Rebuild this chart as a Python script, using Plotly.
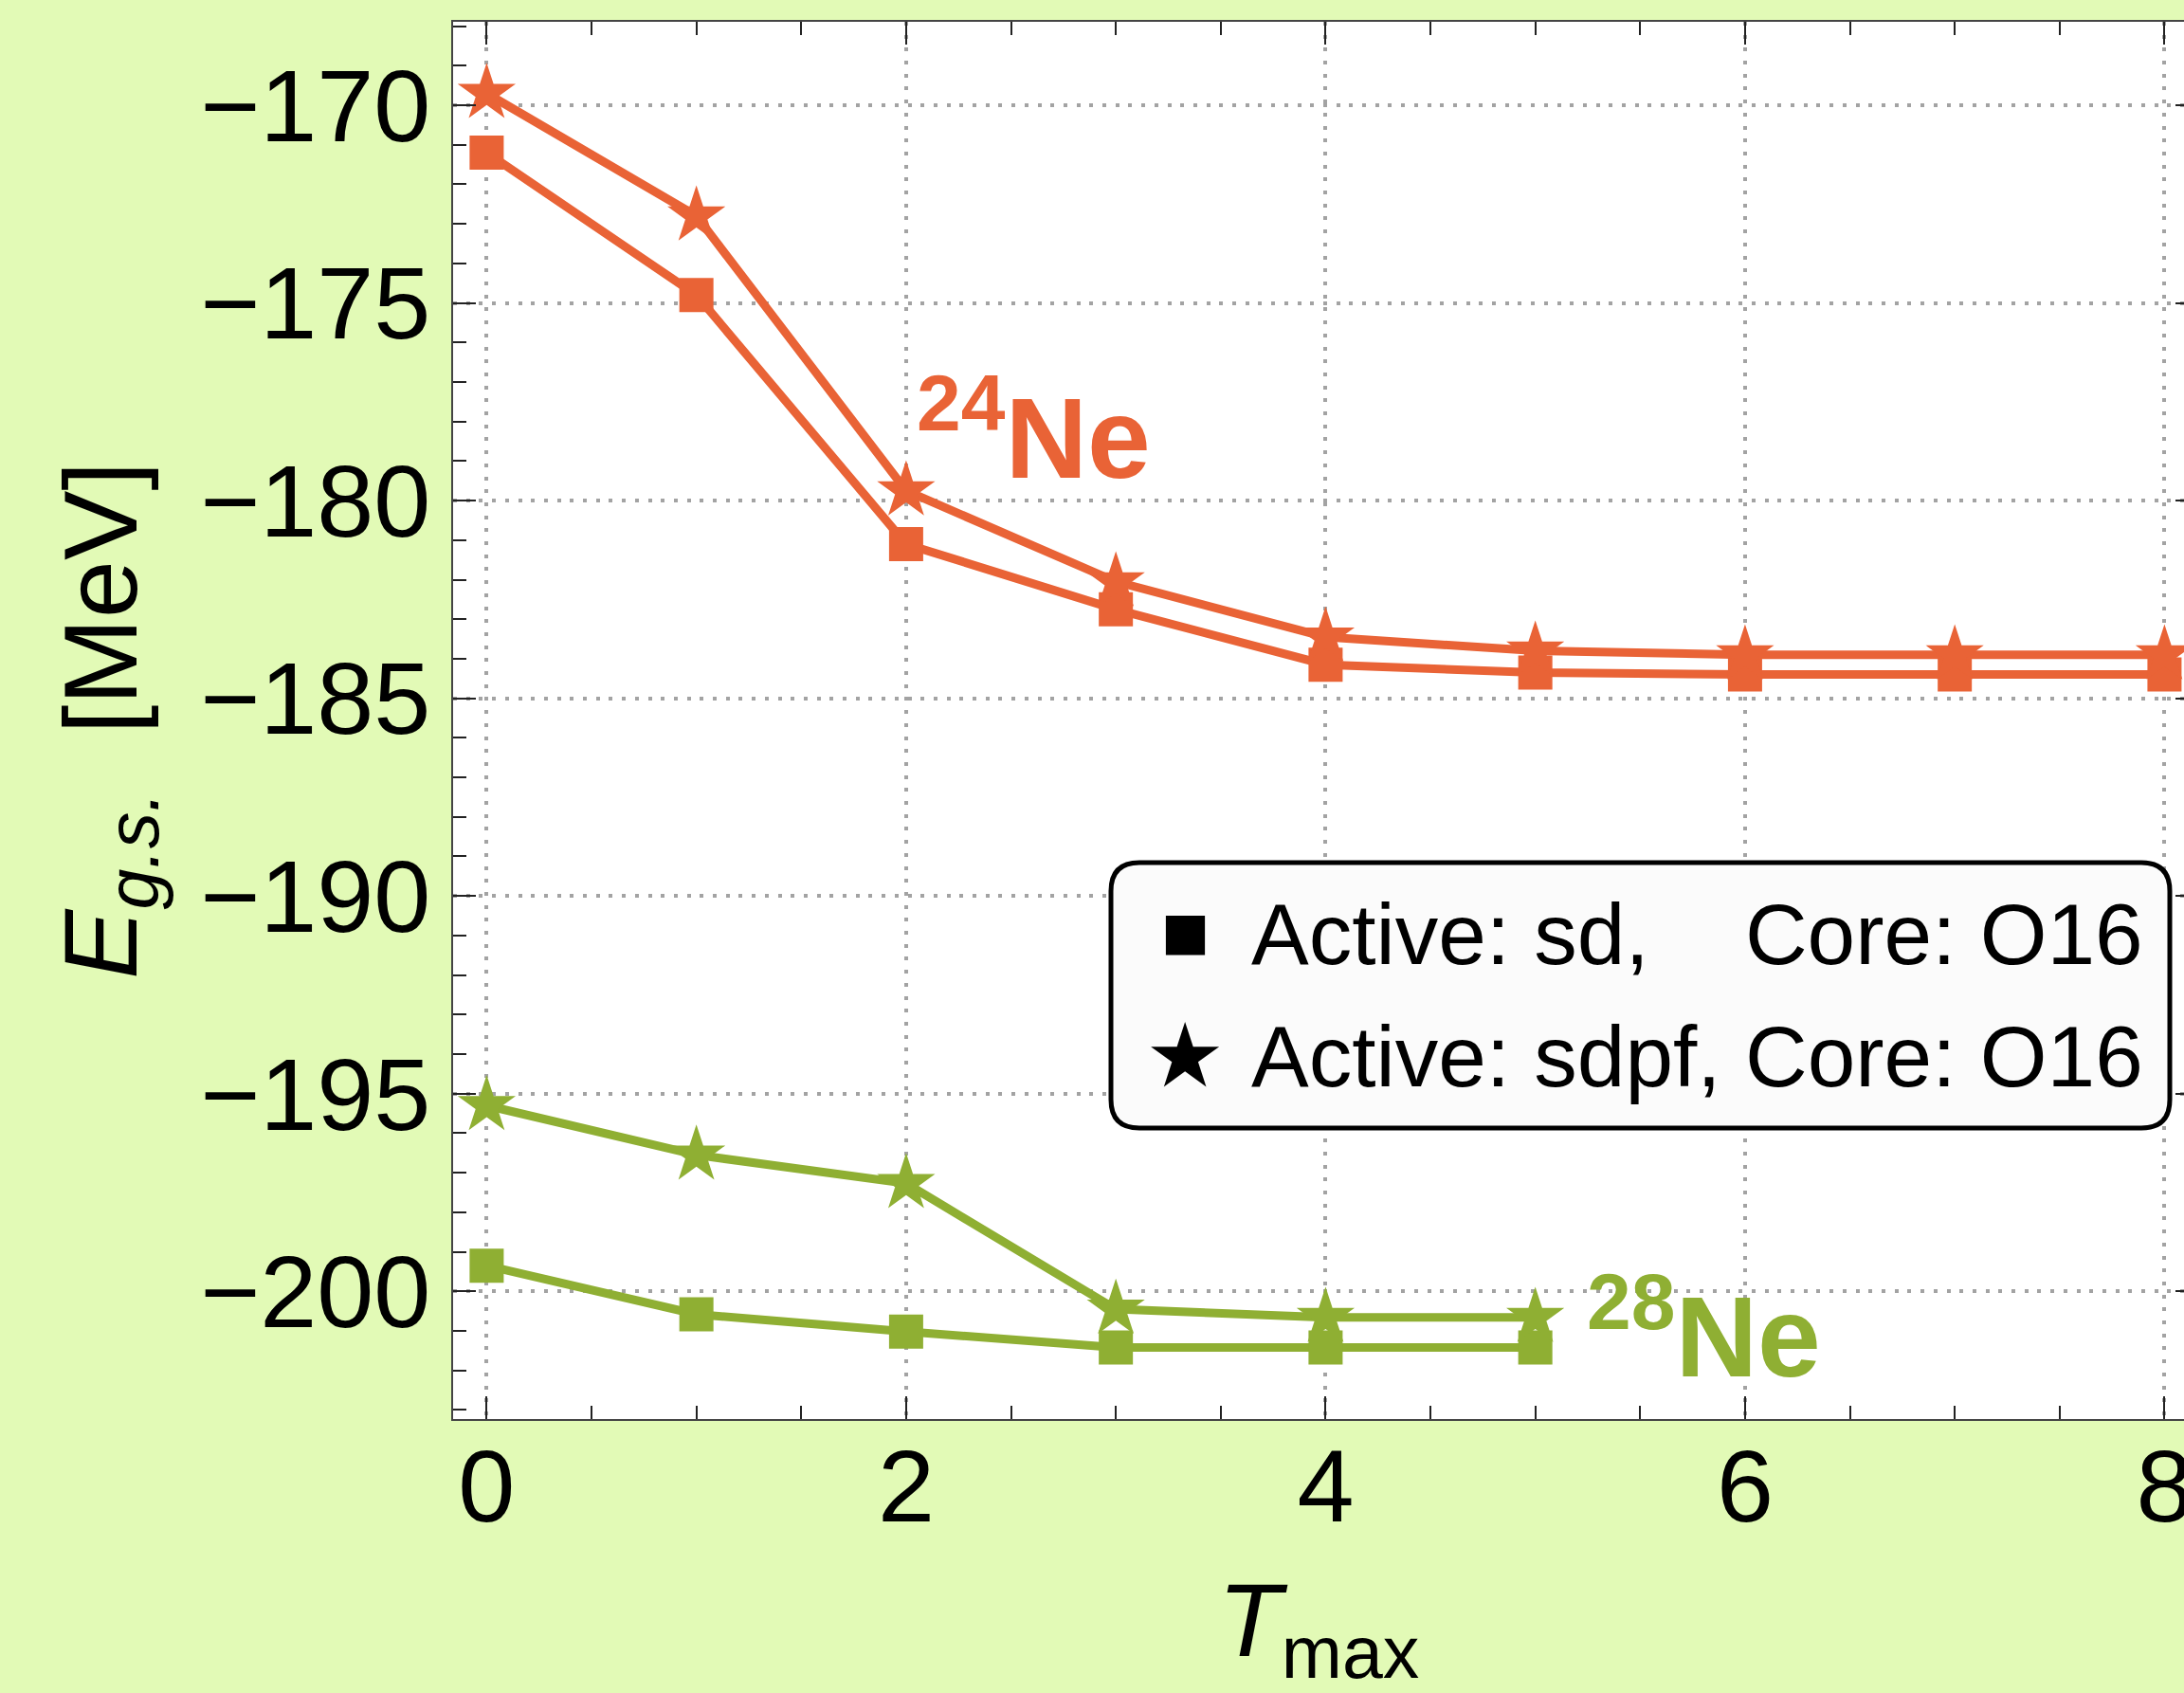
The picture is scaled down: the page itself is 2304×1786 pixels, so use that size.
import plotly.graph_objects as go

# Ground-state energies of 24Ne and 28Ne versus T_max
tmax_24 = [0, 1, 2, 3, 4, 5, 6, 7, 8]
e24_sd = [-171.2, -174.8, -181.1, -182.75, -184.15, -184.35, -184.4, -184.4, -184.4]
e24_sdpf = [-169.7, -172.8, -179.75, -182.05, -183.45, -183.8, -183.9, -183.9, -183.9]

tmax_28 = [0, 1, 2, 3, 4, 5]
e28_sd = [-199.35, -200.58, -201.02, -201.42, -201.42, -201.42]
e28_sdpf = [-195.3, -196.55, -197.27, -200.45, -200.66, -200.66]

legend_labels = ["Active: sd,\u00a0\u00a0\u00a0\u00a0Core: O16", "Active: sdpf, Core: O16"]
x_ticks = [0, 2, 4, 6, 8]
y_ticks = [-170, -175, -180, -185, -190, -195, -200]

ORANGE = "#E96336"
GREEN = "#8FAF33"
BG = "#E2FAB6"
FONT = "Liberation Sans, Arial, sans-serif"

W, H = 2304, 1786
L, R, T, B = 478, 0, 23, 289
X_RANGE = [-0.16, 8.093]
Y_RANGE = [-203.23, -167.89]


def px_x(px):
    return (px - L) / (W - L - R)


def px_y(py):
    return (H - B - py) / (H - B - T)


fig = go.Figure()

series = [
    (tmax_24, e24_sd, ORANGE, "square", 36),
    (tmax_24, e24_sdpf, ORANGE, "star", 46),
    (tmax_28, e28_sd, GREEN, "square", 36),
    (tmax_28, e28_sdpf, GREEN, "star", 46),
]
for xs, ys, col, sym, sz in series:
    fig.add_trace(go.Scatter(
        x=xs, y=ys, mode="lines+markers",
        line=dict(color=col, width=9),
        marker=dict(symbol=sym, size=sz, color=col, line=dict(width=0)),
        showlegend=False, hoverinfo="skip",
    ))

axis_common = dict(
    showline=True, linecolor="#444444", linewidth=2,
    ticks="inside", ticklen=24, tickwidth=2, tickcolor="#222222",
    showgrid=True, gridcolor="#A3A3A3", gridwidth=4, griddash="4px,9.7px",
    zeroline=False, ticklabeloverflow="allow", automargin=False,
    tickfont=dict(family=FONT, size=108, color="black"),
)

fig.update_xaxes(
    **axis_common,
    range=X_RANGE, tickvals=x_ticks, mirror="ticks", ticklabelstandoff=-24,
    minor=dict(ticks="inside", ticklen=14, tickwidth=2, tickcolor="#222222", dtick=0.5, showgrid=False),
    title=dict(text="<i>T</i><sub>max</sub>", font=dict(family=FONT, size=110, color="black"), standoff=82),
)
fig.update_yaxes(
    **axis_common,
    range=Y_RANGE, tickvals=y_ticks, mirror=False,
    minor=dict(ticks="inside", ticklen=14, tickwidth=2, tickcolor="#222222", dtick=1, showgrid=False),
    title=dict(text="<i>E</i><sub><i>g.s.</i></sub>\u00a0\u00a0[MeV]", font=dict(family=FONT, size=110, color="black"), standoff=30),
)

# right-hand frame ticks (frame edge lies just past the page)
fig.update_layout(yaxis2=dict(
    overlaying="y", side="right", range=Y_RANGE, tickvals=y_ticks,
    ticks="inside", ticklen=9, tickwidth=2, tickcolor="#222222", automargin=False,
    showticklabels=False, showgrid=False, showline=False, zeroline=False,
))
fig.add_trace(go.Scatter(x=[None], y=[None], yaxis="y2", showlegend=False, hoverinfo="skip"))

# nucleus labels
fig.add_annotation(x=2.04, y=-180.07, xref="x", yref="y", text="<b><sup>24</sup>Ne</b>",
                   showarrow=False, xanchor="left", yanchor="bottom",
                   font=dict(family=FONT, size=120, color=ORANGE))
fig.add_annotation(x=5.236, y=-202.8, xref="x", yref="y", text="<b><sup>28</sup>Ne</b>",
                   showarrow=False, xanchor="left", yanchor="bottom",
                   font=dict(family=FONT, size=120, color=GREEN))

# legend box with rounded corners
x0, x1, y0, y1, rr = px_x(1172), px_x(2289), px_y(910), px_y(1190), 30
rx = rr / (W - L - R)
ry = rr / (H - B - T)
path = (f"M {x0 + rx},{y0} L {x1 - rx},{y0} Q {x1},{y0} {x1},{y0 - ry} "
        f"L {x1},{y1 + ry} Q {x1},{y1} {x1 - rx},{y1} "
        f"L {x0 + rx},{y1} Q {x0},{y1} {x0},{y1 + ry} "
        f"L {x0},{y0 - ry} Q {x0},{y0} {x0 + rx},{y0} Z")
fig.add_shape(type="path", path=path, xref="paper", yref="paper",
              line=dict(color="black", width=5), fillcolor="#FBFBFB", layer="above")

legend_rows = [("\u25A0", 54, 983, 1018), ("\u2605", 94, 1113, 1147)]
for (glyph, gsize, gy, base_y), label in zip(legend_rows, legend_labels):
    fig.add_annotation(x=px_x(1250), y=px_y(gy), xref="paper", yref="paper", text=glyph,
                       showarrow=False, xanchor="center", yanchor="middle",
                       font=dict(family="DejaVu Sans", size=gsize, color="black"))
    fig.add_annotation(x=px_x(1318), y=px_y(base_y + 20), xref="paper", yref="paper", text=label,
                       showarrow=False, xanchor="left", yanchor="bottom",
                       font=dict(family=FONT, size=91, color="black"))

fig.update_layout(
    width=W, height=H,
    margin=dict(l=L, r=R, t=T, b=B, pad=0, autoexpand=False),
    paper_bgcolor=BG, plot_bgcolor="white",
    showlegend=False,
)

fig.write_html("out.html")
